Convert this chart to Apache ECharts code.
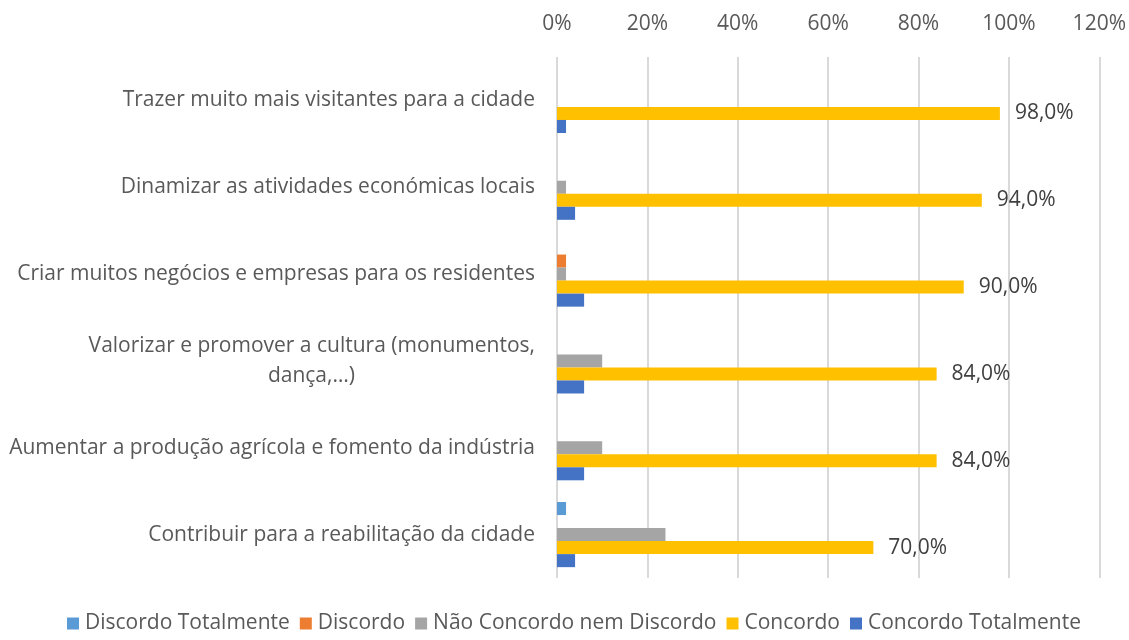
<!DOCTYPE html>
<html>
<head>
<meta charset="utf-8">
<script src="https://cdn.jsdelivr.net/npm/echarts@6/dist/echarts.min.js"></script>
<style>
  html, body { margin: 0; padding: 0; background: #fff; }
  #chart { width: 1129px; height: 640px; }
</style>
</head>
<body>
<div id="chart"></div>
<script>
// Categories, top to bottom
const categories = [
  'Trazer muito mais visitantes para a cidade',
  'Dinamizar as atividades económicas locais',
  'Criar muitos negócios e empresas para os residentes',
  'Valorizar e promover a cultura (monumentos,\ndança,…)',
  'Aumentar a produção agrícola e fomento da indústria',
  'Contribuir para a reabilitação da cidade'
];

const seriesNames = [
  'Discordo Totalmente',
  'Discordo',
  'Não Concordo nem Discordo',
  'Concordo',
  'Concordo Totalmente'
];

// Percentages per category
const discordoTotalmente = [0, 0, 0, 0, 0, 2];
const discordo           = [0, 0, 2, 0, 0, 0];
const naoConcordo        = [0, 2, 2, 10, 10, 24];
const concordo           = [98, 94, 90, 84, 84, 70];
const concordoTotalmente = [2, 4, 6, 6, 6, 4];

const axisTicks = [0, 20, 40, 60, 80, 100, 120];

const colors = ['#5B9BD5', '#ED7D31', '#A5A5A5', '#FFC000', '#4472C4'];
const values = [discordoTotalmente, discordo, naoConcordo, concordo, concordoTotalmente];

const FONT = 'Open Sans';
const FS = 21;

// width of a string in the label font, used to centre wrapped lines
const ctx = document.createElement('canvas').getContext('2d');
ctx.font = FS + 'px "' + FONT + '"';
const textWidth = s => ctx.measureText(s).width;

const series = seriesNames.map((name, i) => ({
  name: name,
  type: 'bar',
  data: values[i],
  barGap: '0%',
  barCategoryGap: '25%',
  itemStyle: { color: colors[i] },
  label: i === 3 ? {
    show: true,
    position: 'right',
    distance: 15,
    color: '#404040',
    fontFamily: FONT,
    fontSize: FS,
    formatter: p => p.value.toFixed(1).replace('.', ',') + '%'
  } : { show: false }
}));

const chart = echarts.init(document.getElementById('chart'));
chart.setOption({
  animation: false,
  color: colors,
  grid: { left: 557, right: 29, top: 57, bottom: 62, containLabel: false },
  xAxis: {
    type: 'value',
    position: 'top',
    min: axisTicks[0],
    max: axisTicks[axisTicks.length - 1],
    interval: 20,
    axisLine: { show: false },
    axisTick: { show: false },
    axisLabel: {
      margin: 22,
      color: '#595959',
      fontFamily: FONT,
      fontSize: FS,
      formatter: v => v + '%'
    },
    splitLine: { show: true, lineStyle: { color: '#D9D9D9', width: 2 } }
  },
  yAxis: {
    type: 'category',
    inverse: true,
    data: categories,
    axisLine: { show: false },
    axisTick: { show: false },
    axisLabel: {
      margin: 22,
      color: '#595959',
      fontFamily: FONT,
      fontSize: FS,
      lineHeight: 30,
      formatter: v => {
        const parts = v.split('\n');
        if (parts.length === 1) return v;
        const pad = Math.max(0, (textWidth(parts[0]) - textWidth(parts[1])) / 2);
        return '{a|' + parts[0] + '}\n{b' + Math.round(pad) + '|' + parts[1] + '}';
      },
      rich: (() => {
        const r = { a: { color: '#595959', fontFamily: FONT, fontSize: FS, lineHeight: 30 } };
        for (let p = 0; p <= 400; p++) {
          r['b' + p] = { color: '#595959', fontFamily: FONT, fontSize: FS, lineHeight: 30, padding: [0, p, 0, 0] };
        }
        return r;
      })()
    }
  },
  legend: {
    bottom: 1,
    left: 62,
    itemWidth: 12,
    itemHeight: 12,
    itemGap: 10,
    icon: 'rect',
    textStyle: { color: '#595959', fontFamily: FONT, fontSize: FS, padding: [0, 0, 0, 1] },
    data: seriesNames
  },
  series: series
});
</script>
</body>
</html>
